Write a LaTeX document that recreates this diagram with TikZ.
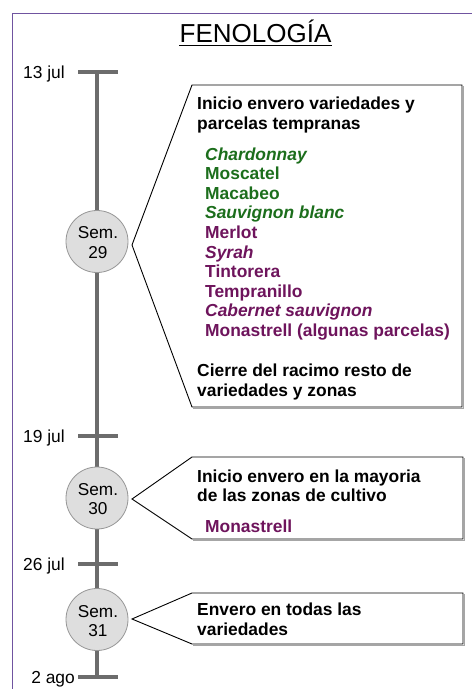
\documentclass[tikz,border=0pt]{standalone}
\usepackage{fontspec}
\setmainfont{Liberation Sans}
\definecolor{vgreen}{RGB}{28,110,28}
\definecolor{vpurple}{RGB}{110,20,92}
\definecolor{framec}{RGB}{112,84,160}
\definecolor{axisc}{RGB}{108,108,108}
\definecolor{circfill}{RGB}{222,222,222}
\definecolor{circdraw}{RGB}{150,150,150}
\tikzset{
  txt/.style={anchor=base west, inner sep=0pt, font=\fontsize{17.4}{19.6}\selectfont\bfseries},
  gtxt/.style={txt, text=vgreen},
  ptxt/.style={txt, text=vpurple},
  datelbl/.style={anchor=base east, inner sep=0pt, font=\fontsize{17.4}{20}\selectfont},
  semcirc/.style={circle, minimum size=62pt, inner sep=0pt, fill=circfill, draw=circdraw, line width=0.8pt},
  semtxt/.style={anchor=base, inner sep=0pt, font=\fontsize{17.2}{20}\selectfont},
  tickline/.style={draw=axisc, line width=4pt},
  callout/.style={draw=black, line width=0.9pt, fill=white, line join=miter},
  shadowc/.style={draw=gray!70, line width=1.2pt}
}
\begin{document}
\begin{tikzpicture}[x=1pt,y=-1pt]
\useasboundingbox (0,0) rectangle (472,689);
% frame
\draw[framec, line width=0.9pt] (12,689) -- (12,13) -- (472,13);
% title
\node[anchor=base, inner sep=0pt, font=\fontsize{26}{30}\selectfont] (title) at (255.5,42) {FENOLOGÍA};
\draw[line width=1pt] (179,45) -- (332,45);
% timeline
\coordinate (t13) at (97,72);
\coordinate (t19) at (97,436);
\coordinate (t26) at (97,564);
\coordinate (t2) at (97,677);
\draw[tickline] (t13) -- (t2);
\foreach \c in {t13,t19,t26,t2} \draw[tickline] ([xshift=-19pt]\c) -- ([xshift=21pt]\c);
\node[datelbl] (l13) at (65,78) {13 jul};
\node[datelbl] (l19) at (65,442) {19 jul};
\node[datelbl] (l26) at (65,570) {26 jul};
\node[datelbl] (l2) at (75,683) {2 ago};
% circles
\node[semcirc] (s29) at (97,241.5) {};
\node[semcirc] (s30) at (97,498) {};
\node[semcirc] (s31) at (97,619.5) {};
\node[semtxt] (s29a) at (98,238) {Sem.};
\node[semtxt] (s29b) at (98,258) {29};
\node[semtxt] (s30a) at (98,495) {Sem.};
\node[semtxt] (s30b) at (98,514) {30};
\node[semtxt] (s31a) at (98,617) {Sem.};
\node[semtxt] (s31b) at (98,636) {31};
% callouts
\coordinate (tip1) at (132,245);
\coordinate (tip2) at (132,499);
\coordinate (tip3) at (132,619);
\draw[shadowc] (463.5,86) -- (463.5,408.5) -- (193,408.5);
\draw[callout] (192,85) -- (462,85) -- (462,407) -- (192,407) -- (tip1) -- cycle;
\draw[shadowc] (464.5,458) -- (464.5,540.5) -- (193,540.5);
\draw[callout] (192,457) -- (463,457) -- (463,539) -- (192,539) -- (tip2) -- cycle;
\draw[shadowc] (464.5,594) -- (464.5,645.5) -- (193,645.5);
\draw[callout] (192,593) -- (463,593) -- (463,644) -- (192,644) -- (tip3) -- cycle;
% box 1 text
\node[txt] (b1a) at (197,109) {Inicio envero variedades y};
\node[txt] (b1b) at (197,129) {parcelas tempranas};
\node[gtxt] (v1) at (205,160) {\itshape Chardonnay};
\node[gtxt] (v2) at (205,179.6) {Moscatel};
\node[gtxt] (v3) at (205,199.2) {Macabeo};
\node[gtxt] (v4) at (205,218.8) {\itshape Sauvignon blanc};
\node[ptxt] (v5) at (205,238.4) {Merlot};
\node[ptxt] (v6) at (205,258) {\itshape Syrah};
\node[ptxt] (v7) at (205,277.6) {Tintorera};
\node[ptxt] (v8) at (205,297.2) {Tempranillo};
\node[ptxt] (v9) at (205,316.8) {\itshape Cabernet sauvignon};
\node[ptxt] (v10) at (205,336.4) {Monastrell (algunas parcelas)};
\node[txt] (b1c) at (197,376) {Cierre del racimo resto de};
\node[txt] (b1d) at (197,396) {variedades y zonas};
% box 2 text
\node[txt] (b2a) at (197,482) {Inicio envero en la mayoria};
\node[txt] (b2b) at (197,501) {de las zonas de cultivo};
\node[ptxt] (b2c) at (205,532) {Monastrell};
% box 3 text
\node[txt] (b3a) at (197,615) {Envero en todas las};
\node[txt] (b3b) at (197,635) {variedades};
\end{tikzpicture}
\end{document}
